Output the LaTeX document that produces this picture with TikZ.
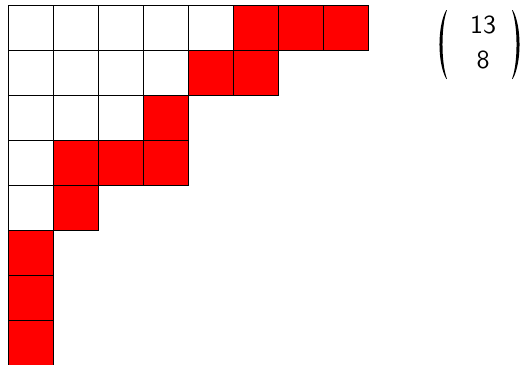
\documentclass[tikz,border=0pt]{standalone}
\begin{document}
\begin{tikzpicture}[x=1pt,y=-1pt,
  cellbox/.style={draw=black,line width=0.9pt,fill=white},
  redbox/.style={draw=black,line width=0.9pt,fill=red},
  digit/.style={font=\sffamily,anchor=base,inner sep=0pt,scale=2.6},
  parenfill/.style={fill=black,draw=none}]
\useasboundingbox (0,0) rectangle (529,364);
\def\cw{45}
\def\ox{8.5}
\def\oy{5.5}
% rows of the diagram
\foreach \r/\n in {0/8,1/6,2/4,3/4,4/2,5/1,6/1,7/1}{
  \foreach \c in {1,...,\n}{
    \pgfmathsetmacro{\xa}{\ox+(\c-1)*\cw}
    \pgfmathsetmacro{\ya}{\oy+\r*\cw}
    \draw[cellbox] (\xa,\ya) rectangle ++(\cw,\cw);
  }
}
% red cells
\foreach \r/\c in {0/5,0/6,0/7,1/4,1/5,2/3,3/1,3/2,3/3,4/1,5/0,6/0,7/0}{
  \pgfmathsetmacro{\xa}{\ox+\c*\cw}
  \pgfmathsetmacro{\ya}{\oy+\r*\cw}
  \draw[redbox] (\xa,\ya) rectangle ++(\cw,\cw);
}
% binomial coefficient
\node[digit] (top) at (483,33.3) {13};
\node[digit] (bot) at (483,68.3) {8};
\fill[parenfill] (446.3,10) .. controls (437.2,26) and (437.2,63) .. (446.3,79)
  -- (446.9,78.6) .. controls (441.0,63) and (441.0,26) .. (446.9,10.4) -- cycle;
\fill[parenfill] (512.7,10) .. controls (521.8,26) and (521.8,63) .. (512.7,79)
  -- (512.1,78.6) .. controls (518.0,63) and (518.0,26) .. (512.1,10.4) -- cycle;
\end{tikzpicture}
\end{document}
